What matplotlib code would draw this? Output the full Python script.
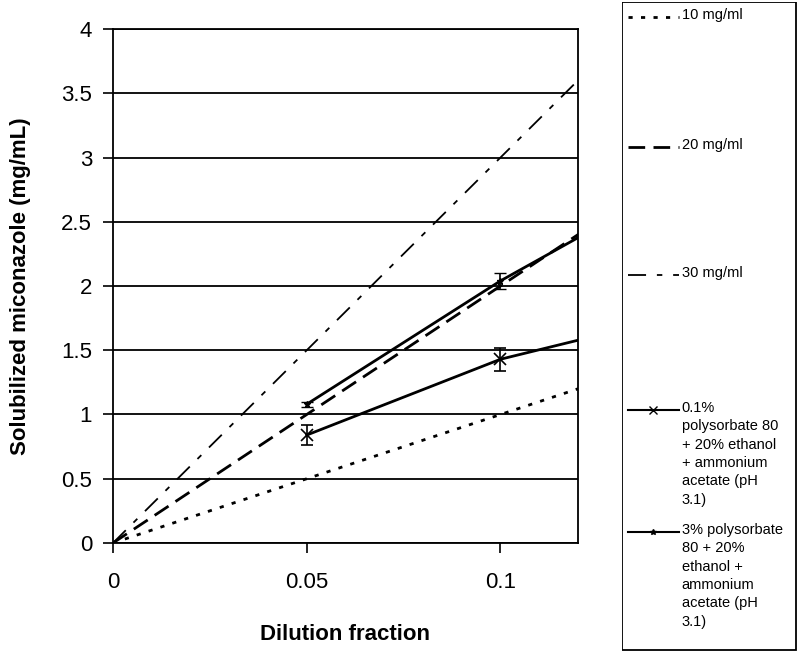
import numpy as np
import matplotlib.pyplot as plt
from matplotlib.lines import Line2D
from matplotlib.patches import Rectangle

plt.rcParams['font.family'] = ['Liberation Sans', 'DejaVu Sans']

# --- datos ---
x_ref = [0, 0.05, 0.1, 0.15]
conc_10 = [0, 0.5, 1.0, 1.5]
conc_20 = [0, 1.0, 2.0, 3.0]
conc_30 = [0, 1.5, 3.0, 4.5]

x_med = [0.05, 0.1, 0.15]
pol01 = [0.84, 1.43, 1.80]        # 0.1% polysorbate 80
pol01_err = [0.08, 0.09, 0.0]
pol3 = [1.08, 2.04, 2.88]         # 3% polysorbate 80
pol3_err = [0.02, 0.06, 0.0]

y_ticks = [0, 0.5, 1, 1.5, 2, 2.5, 3, 3.5, 4]
x_ticks = [0, 0.05, 0.1]

etiquetas = ['10 mg/ml', '20 mg/ml', '30 mg/ml',
             '0.1%\npolysorbate 80\n+ 20% ethanol\n+ ammonium\nacetate (pH\n3.1)',
             '3% polysorbate\n80 + 20%\nethanol +\nammonium\nacetate (pH\n3.1)']

# --- figura ---
fig = plt.figure(figsize=(7.99, 6.52), dpi=100)
ax = fig.add_axes([0.1414, 0.1672, 0.582, 0.7883])

estilo_10 = dict(color='black', lw=2, linestyle=(0, (1.5, 3)))
estilo_20 = dict(color='black', lw=2, linestyle=(0, (6, 3)))
estilo_30 = dict(color='black', lw=1.3, linestyle=(0, (10, 6, 3, 6)))

ax.plot(x_ref, conc_10, **estilo_10)
ax.plot(x_ref, conc_20, **estilo_20)
ax.plot(x_ref, conc_30, **estilo_30)

ax.errorbar(x_med, pol01, yerr=pol01_err, color='black', lw=2, marker='x',
            ms=9, mew=1.2, ecolor='black', elinewidth=1.2, capsize=4, capthick=1.2)
ax.errorbar(x_med, pol3, yerr=pol3_err, color='black', lw=2, marker='*',
            ms=5, mew=1, ecolor='black', elinewidth=1.2, capsize=4, capthick=1.2)

ax.set_xlim(0, 0.12)
ax.set_ylim(0, 4)
ax.set_yticks(y_ticks)
ax.set_yticklabels(['0', '0.5', '1', '1.5', '2', '2.5', '3', '3.5', '4'])
ax.set_xticks(x_ticks)
ax.set_xticklabels(['0', '0.05', '0.1'])
ax.yaxis.grid(True, color='black', lw=1.3)
ax.set_axisbelow(True)
ax.tick_params(direction='out', length=7, width=1.2, labelsize=16)
ax.tick_params(axis='y', pad=8)
ax.tick_params(axis='x', pad=14)
for sp in ax.spines.values():
    sp.set_linewidth(1.3)

ax.set_xlabel('Dilution fraction', fontsize=16, fontweight='bold', labelpad=22)
ax.set_ylabel('Solubilized miconazole (mg/mL)', fontsize=16, fontweight='bold', labelpad=22)

# --- leyenda dibujada a mano en un eje aparte ---
ax_leg = fig.add_axes([0.778, 0.002, 0.219, 0.995])
ax_leg.set_xlim(0, 175)
ax_leg.set_ylim(649, 0)
ax_leg.axis('off')
ax_leg.add_patch(Rectangle((0.5, 0.5), 174, 648, fill=False, ec='black', lw=1.3))

filas_y = [15, 145, 273, 408, 530]
muestras = [estilo_10, estilo_20, estilo_30,
            dict(color='black', lw=1.5, marker='x', ms=6, markevery=[1]),
            dict(color='black', lw=1.5, marker='*', ms=4, markevery=[1])]
for yy, est, txt in zip(filas_y, muestras, etiquetas):
    ax_leg.add_line(Line2D([6, 31, 57], [yy, yy, yy], **est))
    ax_leg.text(60, yy - 9, txt, fontsize=10.5, va='top', ha='left', linespacing=1.4)

fig.savefig('out.png', dpi=100)
